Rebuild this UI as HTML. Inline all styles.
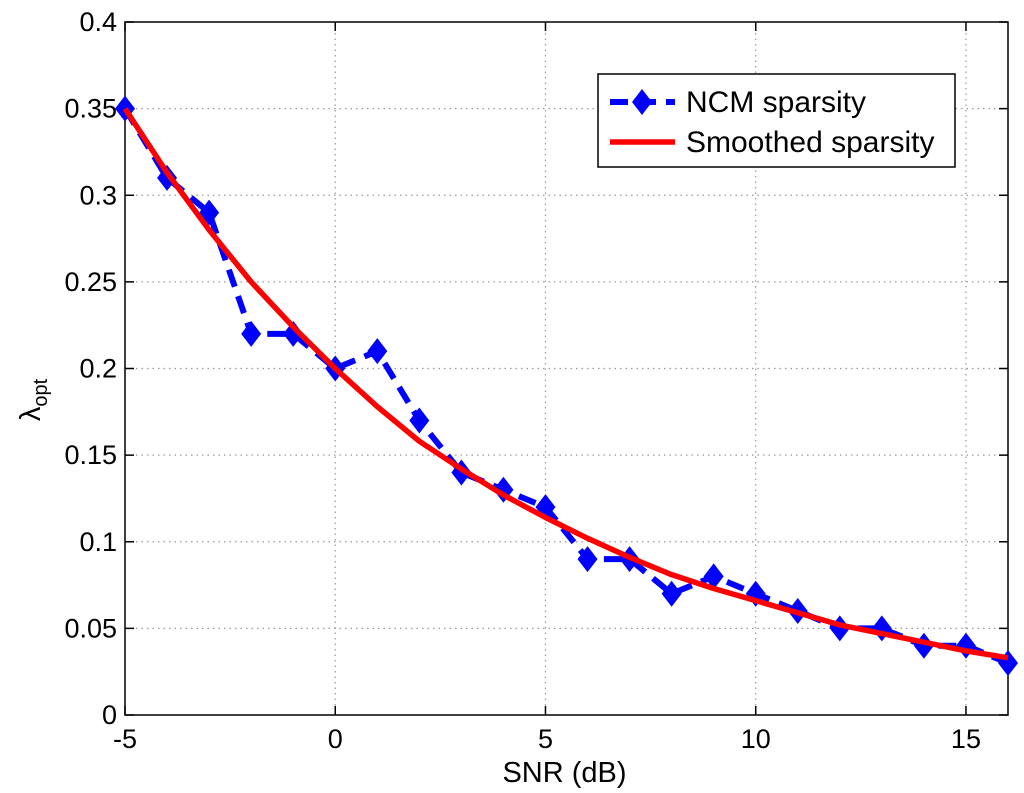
<!DOCTYPE html>
<html><head><meta charset="utf-8"><style>
html,body{margin:0;padding:0;background:#fff;}
svg{display:block;font-family:"Liberation Sans",sans-serif;}
</style></head><body>
<svg id="chart" width="1024" height="793"></svg>
<script>
const snr=[-5,-4,-3,-2,-1,0,1,2,3,4,5,6,7,8,9,10,11,12,13,14,15,16];
const ncm=[0.35,0.31,0.29,0.22,0.22,0.20,0.21,0.17,0.14,0.13,0.12,0.09,0.09,0.07,0.08,0.07,0.06,0.05,0.05,0.04,0.04,0.03];
const smooth=[0.35,0.313,0.28,0.25,0.224,0.20,0.178,0.158,0.142,0.127,0.114,0.102,0.091,0.081,0.073,0.066,0.059,0.052,0.047,0.042,0.037,0.033];
const xTicks=[-5,0,5,10,15];
const xTickLabels=["-5","0","5","10","15"];
const yTicks=[0,0.05,0.1,0.15,0.2,0.25,0.3,0.35,0.4];
const yTickLabels=["0","0.05","0.1","0.15","0.2","0.25","0.3","0.35","0.4"];

const L=125,R=1008,T=22,B=715;
const xs=v=>L+(v-(-5))/(16-(-5))*(R-L);
const ys=v=>B-(v/0.4)*(B-T);
const svg=document.getElementById('chart');
const NS="http://www.w3.org/2000/svg";
function mk(tag,attrs,parent){const e=document.createElementNS(NS,tag);for(const k in attrs)e.setAttribute(k,attrs[k]);(parent||svg).appendChild(e);return e;}

const grid=mk('g',{});


xTicks.forEach(v=>{if(v>-5&&v<16)mk('line',{x1:xs(v),x2:xs(v),y1:T,y2:B,stroke:'#999','stroke-dasharray':'1.5,4','stroke-width':1.2},grid);});
yTicks.forEach(v=>{if(v>0&&v<0.4)mk('line',{x1:L,x2:R,y1:ys(v),y2:ys(v),stroke:'#999','stroke-dasharray':'1.5,4','stroke-width':1.2},grid);});

const box=mk('rect',{x:L,y:T,width:R-L,height:B-T,fill:'none',stroke:'#000','stroke-width':1.5});



xTicks.forEach((v,i)=>{
 mk('line',{x1:xs(v),x2:xs(v),y1:B,y2:B-9,stroke:'#000','stroke-width':1.5});
 mk('line',{x1:xs(v),x2:xs(v),y1:T,y2:T+9,stroke:'#000','stroke-width':1.5});
 const t=mk('text',{x:xs(v),y:B+33,'text-anchor':'middle','font-size':27});
 t.textContent=xTickLabels[i];
 
 
});
yTicks.forEach((v,i)=>{
 mk('line',{x1:L,x2:L+9,y1:ys(v),y2:ys(v),stroke:'#000','stroke-width':1.5});
 mk('line',{x1:R,x2:R-9,y1:ys(v),y2:ys(v),stroke:'#000','stroke-width':1.5});
 const t=mk('text',{x:L-8,y:ys(v)+9,'text-anchor':'end','font-size':27});
 t.textContent=yTickLabels[i];
 
 
});

const xt=mk('text',{x:(L+R)/2-2,y:782,'text-anchor':'middle','font-size':29});
xt.textContent='SNR (dB)';


const yt=mk('text',{transform:'translate(40,400) rotate(-90)','text-anchor':'middle','font-size':29});
yt.innerHTML='λ<tspan font-size="20" dy="7">opt</tspan>';



const blue=mk('polyline',{points:snr.map((x,i)=>xs(x)+','+ys(ncm[i])).join(' '),fill:'none',stroke:'#0000ff','stroke-width':6,'stroke-dasharray':'18,10'});


const mg=mk('g',{});


snr.forEach((x,i)=>{const cx=xs(x),cy=ys(ncm[i]);
 const p=mk('polygon',{points:`${cx},${cy-13} ${cx+10},${cy} ${cx},${cy+13} ${cx-10},${cy}`,fill:'#0000ff'},mg);
 
 
});
const red=mk('polyline',{points:snr.map((x,i)=>xs(x)+','+ys(smooth[i])).join(' '),fill:'none',stroke:'#ff0000','stroke-width':5.5,'stroke-linejoin':'round'});



const lg=mk('g',{});


mk('rect',{x:598,y:74,width:357,height:93,fill:'#fff',stroke:'#000','stroke-width':1.5},lg);
const e1=mk('g',{},lg);


mk('line',{x1:610,x2:675,y1:102,y2:102,stroke:'#0000ff','stroke-width':6,'stroke-dasharray':'18,10'},e1);
mk('polygon',{points:'642,89 652,102 642,115 632,102',fill:'#0000ff'},e1);
const t1=mk('text',{x:686,y:112,'font-size':30},e1);t1.textContent='NCM sparsity';
const e2=mk('g',{},lg);


mk('line',{x1:610,x2:675,y1:142,y2:142,stroke:'#ff0000','stroke-width':5.5},e2);
const t2=mk('text',{x:686,y:152,'font-size':30},e2);t2.textContent='Smoothed sparsity';
</script>
</body></html>
